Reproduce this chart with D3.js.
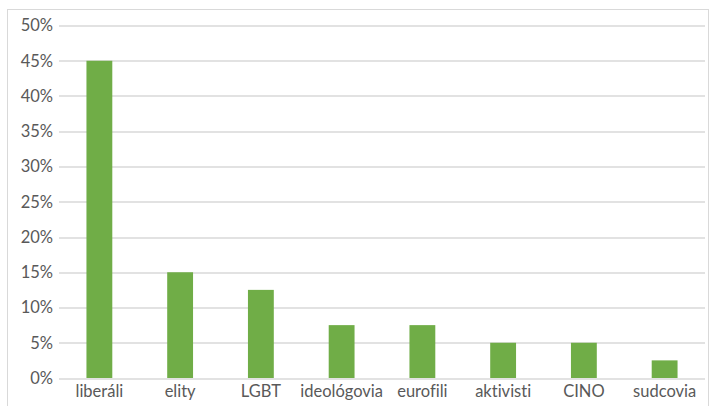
<!DOCTYPE html>
<html>
<head>
<meta charset="utf-8">
<script src="https://cdn.jsdelivr.net/npm/d3@7"></script>
<style>
  body { margin: 0; background: #fff; }
  svg { display: block; }
  text { font-family: Lato, "Open Sans", sans-serif; fill: #595959; font-variant-ligatures: none; }
</style>
</head>
<body>
<div id="chart"></div>
<script>
// Data
const categories = ["liberáli", "elity", "LGBT", "ideológovia", "eurofili", "aktivisti", "CINO", "sudcovia"];
const values = [0.45, 0.15, 0.125, 0.075, 0.075, 0.05, 0.05, 0.025];
const yTicks = [0, 0.05, 0.10, 0.15, 0.20, 0.25, 0.30, 0.35, 0.40, 0.45, 0.50];

const W = 710, H = 406;
const margin = { top: 25.5, right: 5, bottom: 28, left: 59 };
const width = W - margin.left - margin.right;
const height = H - margin.top - margin.bottom;

const svg = d3.select("#chart")
    .append("svg")
    .attr("width", W)
    .attr("height", H);

// Outer chart border
svg.append("rect")
    .attr("x", 7.5)
    .attr("y", 9.5)
    .attr("width", 701)
    .attr("height", 400)
    .attr("fill", "none")
    .attr("stroke", "#d9d9d9");

const g = svg.append("g")
    .attr("transform", `translate(${margin.left},${margin.top})`);

const x = d3.scaleBand()
    .domain(categories)
    .range([0, width])
    .paddingInner(0.68)
    .paddingOuter(0.34);

const y = d3.scaleLinear()
    .domain([0, 0.5])
    .range([height, 0]);

// Gridlines
g.selectAll(".grid")
    .data(yTicks)
    .enter()
    .append("line")
    .attr("x1", 0)
    .attr("x2", width)
    .attr("y1", d => Math.round(y(d)) + 0.5)
    .attr("y2", d => Math.round(y(d)) + 0.5)
    .attr("stroke", "#d9d9d9")
    .attr("stroke-width", 1.3);

// Bars
g.selectAll(".bar")
    .data(values)
    .enter()
    .append("rect")
    .attr("x", (d, i) => x(categories[i]))
    .attr("y", d => y(d))
    .attr("width", x.bandwidth())
    .attr("height", d => height - y(d))
    .attr("fill", "#70ad47");

// Y axis
const yAxis = g.append("g")
    .call(d3.axisLeft(y)
        .tickValues(yTicks)
        .tickFormat(d3.format(".0%"))
        .tickSize(0)
        .tickPadding(6));
yAxis.select(".domain").remove();
yAxis.selectAll("text")
    .style("font-size", "16.5px")
    .style("font-family", "Lato, sans-serif")
    .attr("fill", "#595959");

// X axis
const xAxis = g.append("g")
    .attr("transform", `translate(0,${height})`)
    .call(d3.axisBottom(x).tickSize(0).tickPadding(7));
xAxis.select(".domain").remove();
xAxis.selectAll("text")
    .style("font-size", "16.5px")
    .style("font-family", "Lato, sans-serif")
    .attr("fill", "#595959");
</script>
</body>
</html>
